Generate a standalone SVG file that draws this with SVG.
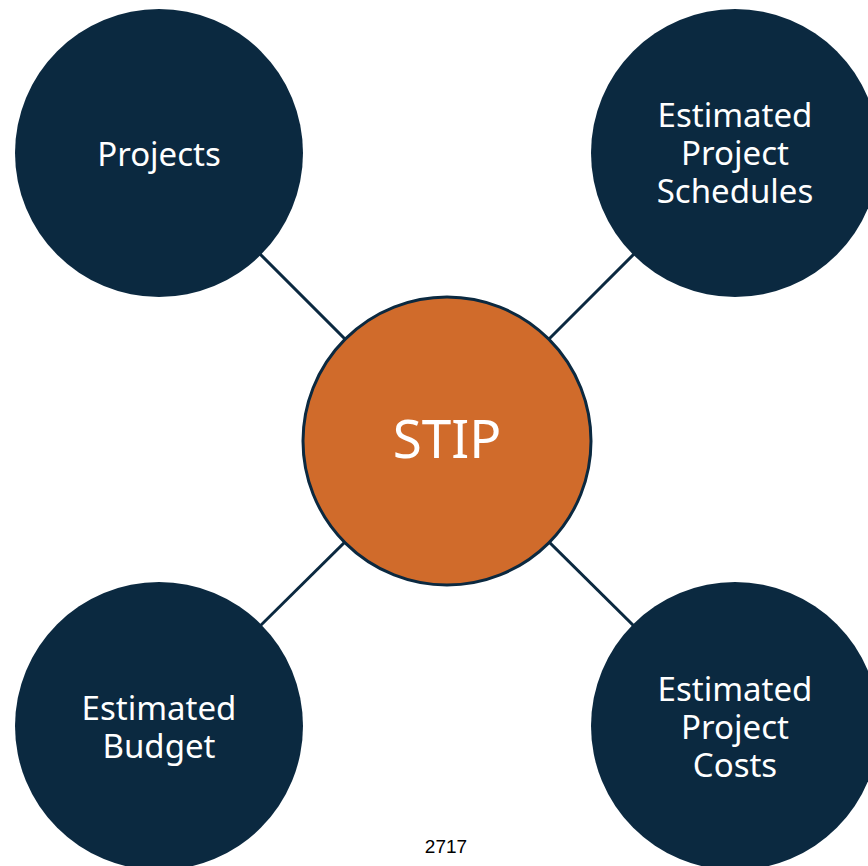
<svg xmlns="http://www.w3.org/2000/svg" width="868" height="866" viewBox="0 0 868 866">
<style>
.sat{fill:#0b2940}
.lbl{fill:#ffffff;font-family:"Noto Sans","Open Sans",sans-serif;font-size:33px;text-anchor:middle}
.conn line{stroke:#0b2940;stroke-width:3}
</style>
<rect width="868" height="866" fill="#ffffff"/>
<g id="connectors" class="conn">
<line x1="159" y1="153" x2="447" y2="441"/>
<line x1="735" y1="153" x2="447" y2="441"/>
<line x1="159" y1="726" x2="447" y2="441"/>
<line x1="735" y1="726" x2="447" y2="441"/>
</g>
<g id="projects">
<circle class="sat" cx="159" cy="153" r="144"/>
<text class="lbl" x="159" y="166">Projects</text>
</g>
<g id="schedules">
<circle class="sat" cx="735" cy="153" r="144"/>
<text class="lbl"><tspan x="735" y="127">Estimated</tspan><tspan x="735" y="165">Project</tspan><tspan x="735" y="203">Schedules</tspan></text>
</g>
<g id="budget">
<circle class="sat" cx="159" cy="726" r="144"/>
<text class="lbl"><tspan x="159" y="720">Estimated</tspan><tspan x="159" y="758">Budget</tspan></text>
</g>
<g id="costs">
<circle class="sat" cx="735" cy="726" r="144"/>
<text class="lbl"><tspan x="735" y="701">Estimated</tspan><tspan x="735" y="739">Project</tspan><tspan x="735" y="777">Costs</tspan></text>
</g>
<g id="stip">
<circle cx="447" cy="441" r="144" fill="#d06b2b" stroke="#0b2940" stroke-width="3"/>
<text x="447" y="458" fill="#ffffff" font-family="'Noto Sans','Open Sans',sans-serif" font-size="53" text-anchor="middle">STIP</text>
</g>
<text x="446" y="853" fill="#000000" font-family="'Liberation Sans',Arial,sans-serif" font-size="19" text-anchor="middle">2717</text>
</svg>
